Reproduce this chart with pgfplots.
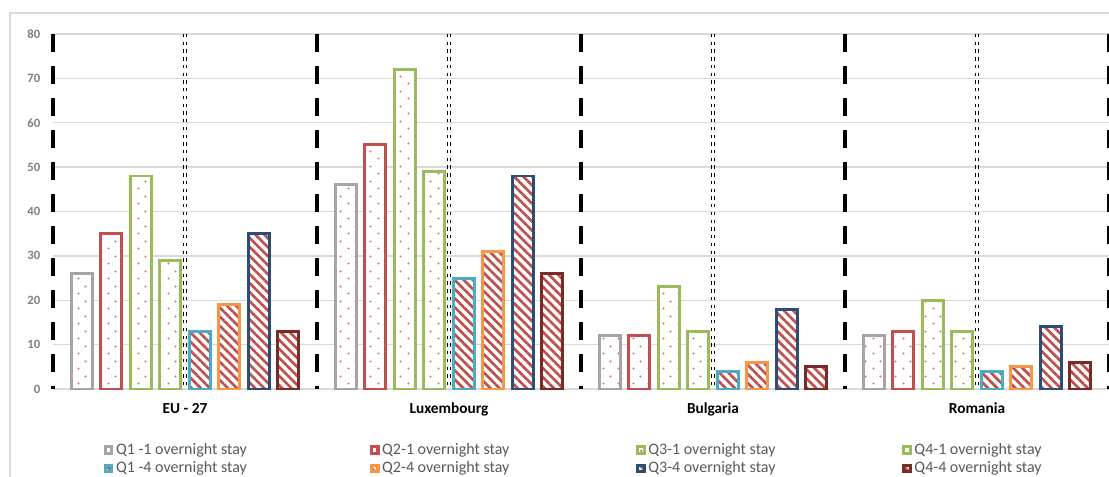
\documentclass[border=0pt]{standalone}
\usepackage{pgfplots}
\pgfplotsset{compat=1.18}
\usepackage{fontspec}
\setmainfont{Carlito}
\usetikzlibrary{patterns,patterns.meta}

\definecolor{cgray}{HTML}{A5A5A5}
\definecolor{cred}{HTML}{C0504D}
\definecolor{cgreen}{HTML}{9BBB59}
\definecolor{ccyan}{HTML}{4BACC6}
\definecolor{corange}{HTML}{F79646}
\definecolor{cnavy}{HTML}{2C4D75}
\definecolor{cmaroon}{HTML}{772C2A}
\definecolor{pat}{HTML}{C0504D}
\definecolor{dotc}{HTML}{D97070}
\definecolor{gridc}{HTML}{D9D9D9}
\definecolor{tickc}{HTML}{808080}
\definecolor{legc}{HTML}{595959}

\pgfdeclarepatternformonly{mydots}{\pgfpointorigin}{\pgfpoint{11.25pt}{11.25pt}}{\pgfpoint{11.25pt}{11.25pt}}{%
  \pgfpathcircle{\pgfpoint{2.8pt}{2.8pt}}{0.95pt}\pgfusepath{fill}%
  \pgfpathcircle{\pgfpoint{8.4pt}{8.4pt}}{0.95pt}\pgfusepath{fill}}

\pgfplotsset{
  legsq/.style={legend image code/.code={%
      \draw[##1, line width=2.3pt] (0pt,-2.4pt) rectangle (4.8pt,2.4pt);}},
  dotbar/.style 2 args={ybar, bar width=0.0795, bar shift=#2, draw=#1, line width=2.2pt,
      preaction={fill=white}, pattern=mydots, pattern color=dotc, legsq},
  linbar/.style 2 args={ybar, bar width=0.0795, bar shift=#2, draw=#1, line width=2.2pt,
      preaction={fill=white}, pattern={Lines[angle=-45,distance=4.8pt,line width=2pt]}, pattern color=pat, legsq},
}
\tikzset{
  sep/.style={black, line width=3pt, dash pattern=on 13.5pt off 10.5pt},
  mid/.style={black, line width=0.8pt, dash pattern=on 2.5pt off 3.3pt},
}

\newcommand{\legtxt}[1]{\makebox[188.5pt][l]{#1}}

\begin{document}
\begin{tikzpicture}
\begin{axis}[
  width=792pt, height=266.25pt, scale only axis,
  xmin=0, xmax=4, ymin=0, ymax=80,
  ytick={0,10,...,80},
  xtick={0.5,1.5,2.5,3.5},
  xticklabels={EU - 27, Luxembourg, Bulgaria, Romania},
  major tick length=0pt,
  axis line style={draw=none},
  ymajorgrids, grid style={gridc, line width=1pt},
  clip=false,
  /pgf/number format/assume math mode=true,
  yticklabel style={font=\bfseries\fontsize{9.5}{11}\selectfont, text=tickc, anchor=east, xshift=-6pt},
  xticklabel style={font=\bfseries\fontsize{11.5}{13}\selectfont, text=black, anchor=base, yshift=-18.75pt},
  legend columns=4,
  legend cell align=left,
  legend style={draw=none, fill=none, inner sep=0pt, at={(0.048,-0.145)}, anchor=north west,
     font=\fontsize{12}{13.5}\selectfont, text=legc, row sep=0pt},
]
\addplot[dotbar={cgray}{-0.3911}] coordinates {(0.5,26) (1.5,46) (2.5,12) (3.5,12)};
\addlegendentry{\legtxt{Q1 -1 overnight stay}}
\addplot[dotbar={cred}{-0.2793}] coordinates {(0.5,35) (1.5,55) (2.5,12) (3.5,13)};
\addlegendentry{\legtxt{Q2-1 overnight stay}}
\addplot[dotbar={cgreen}{-0.1676}] coordinates {(0.5,48) (1.5,72) (2.5,23) (3.5,20)};
\addlegendentry{\legtxt{Q3-1 overnight stay}}
\addplot[dotbar={cgreen}{-0.0559}] coordinates {(0.5,29) (1.5,49) (2.5,13) (3.5,13)};
\addlegendentry{\legtxt{Q4-1 overnight stay}}
\addplot[linbar={ccyan}{0.0559}] coordinates {(0.5,13) (1.5,25) (2.5,4) (3.5,4)};
\addlegendentry{\legtxt{Q1 -4 overnight stay}}
\addplot[linbar={corange}{0.1676}] coordinates {(0.5,19) (1.5,31) (2.5,6) (3.5,5)};
\addlegendentry{\legtxt{Q2-4 overnight stay}}
\addplot[linbar={cnavy}{0.2793}] coordinates {(0.5,35) (1.5,48) (2.5,18) (3.5,14)};
\addlegendentry{\legtxt{Q3-4 overnight stay}}
\addplot[linbar={cmaroon}{0.3911}] coordinates {(0.5,13) (1.5,26) (2.5,5) (3.5,6)};
\addlegendentry{\legtxt{Q4-4 overnight stay}}

\draw[sep] (axis cs:0,80) -- (axis cs:0,0);
\draw[sep] (axis cs:1,80) -- (axis cs:1,0);
\draw[sep] (axis cs:2,80) -- (axis cs:2,0);
\draw[sep] (axis cs:3,80) -- (axis cs:3,0);
\draw[sep] (axis cs:4,80) -- (axis cs:4,0);
\draw[mid] ([xshift=-0.95pt]axis cs:0.5,80) -- ([xshift=-0.95pt]axis cs:0.5,0);
\draw[mid] ([xshift=0.95pt]axis cs:0.5,80) -- ([xshift=0.95pt]axis cs:0.5,0);
\draw[mid] ([xshift=-0.95pt]axis cs:1.5,80) -- ([xshift=-0.95pt]axis cs:1.5,0);
\draw[mid] ([xshift=0.95pt]axis cs:1.5,80) -- ([xshift=0.95pt]axis cs:1.5,0);
\draw[mid] ([xshift=-0.95pt]axis cs:2.5,80) -- ([xshift=-0.95pt]axis cs:2.5,0);
\draw[mid] ([xshift=0.95pt]axis cs:2.5,80) -- ([xshift=0.95pt]axis cs:2.5,0);
\draw[mid] ([xshift=-0.95pt]axis cs:3.5,80) -- ([xshift=-0.95pt]axis cs:3.5,0);
\draw[mid] ([xshift=0.95pt]axis cs:3.5,80) -- ([xshift=0.95pt]axis cs:3.5,0);
\end{axis}
\draw[gridc, line width=1.4pt] ([xshift=-32.25pt,yshift=-80pt]current axis.south west) |- ([xshift=10pt,yshift=15.75pt]current axis.north east);
\pgfresetboundingbox
\path[use as bounding box] ([xshift=-39.75pt,yshift=-66pt]current axis.south west) rectangle ([yshift=25.5pt]current axis.north east);
\end{tikzpicture}
\end{document}
